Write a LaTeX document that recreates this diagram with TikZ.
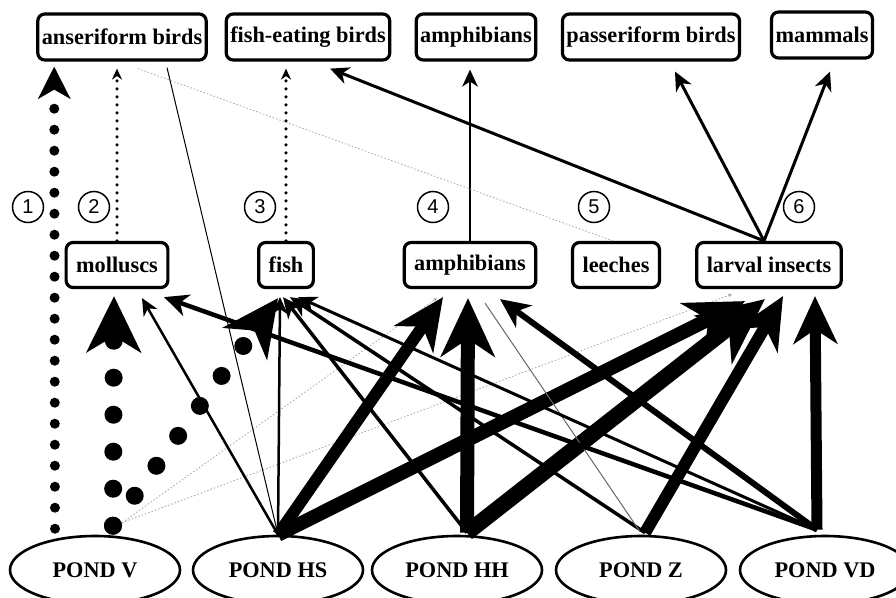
\documentclass[tikz,border=0pt]{standalone}
\usepackage{fontspec}
\setmainfont{Liberation Serif}
\setsansfont{Liberation Sans}
\usetikzlibrary{arrows.meta,shapes.geometric,calc}

\begin{document}
\begin{tikzpicture}[x=1pt, y=-1pt,
    box/.style={draw, line width=3.2pt, rounded corners=7pt, inner xsep=4pt, minimum height=46pt,
        font=\fontsize{22.3}{24}\selectfont\bfseries},
    prey/.style={box, inner xsep=10pt, minimum height=45pt},
    pond/.style={draw, ellipse, line width=2.6pt, minimum width=170pt, minimum height=68pt,
        font=\fontsize{22.3}{24}\selectfont\bfseries},
    num/.style={draw, circle, line width=1.5pt, minimum size=31pt, inner sep=0pt,
        font=\sffamily\fontsize{20}{20}\selectfont},
    flow/.style={line width=#1, -{Stealth[length=8pt 3.6, width'=0pt .92, inset'=0pt .3]}},
    bigdots/.style={line width=10pt, line cap=round, dash pattern=on 0pt off 21pt,
        -{Stealth[length=32pt, width=32pt, inset=9pt]}},
    hugedots/.style={line width=18pt, line cap=round, dash pattern=on 0pt off 37pt,
        -{Stealth[length=56pt, width=54pt, inset=16pt]}},
    fewdots/.style={line width=3.5pt, line cap=round, dash pattern=on 0pt off 8pt,
        -{Stealth[length=11pt, width=10pt]}},
    faint/.style={gray!70, line width=0.8pt, dash pattern=on 1.5pt off 2pt},
    faintarrow/.style={faint, -{Stealth[length=4pt, width=4pt]}}
]
    \useasboundingbox (0,0) rectangle (896,597);
    \clip (0,0) rectangle (896,597);

    % Predators
    \node[box] (ans) at (122,37) {anseriform birds};
    \node[box] (feb) at (308,37) {fish-eating birds};
    \node[box] (amt) at (476,37) {amphibians};
    \node[box] (pas) at (651,37) {passeriform birds};
    \node[box] (mam) at (822,35) {mammals};

    % Prey
    \node[prey] (mol) at (117,265) {molluscs};
    \node[prey] (fis) at (286,265) {fish};
    \node[prey] (amm) at (470,265) {amphibians};
    \node[prey] (lee) at (616,265) {leeches};
    \node[prey] (lar) at (769,265) {larval insects};

    % Pathway numbers
    \foreach \i/\x in {1/28,2/94,3/260,4/433,5/594,6/799}
        \node[num] (n\i) at (\x,207) {\i};

    % Ponds
    \foreach \n/\x/\t in {pv/95/V, phs/278/HS, phh/457/HH, pz/641/Z, pvd/825/VD}
        \node[pond] (\n) at (\x,570) {POND \t};

    \coordinate (v1) at ($(pv.north)+(-40,-6)$);
    \coordinate (v2) at ($(pv.north)+(18,-9)$);
    \coordinate (v3) at ($(pv.north)+(27,-12)$);
    \coordinate (hh) at ($(phh.north)+(10,-2)$);
    \coordinate (zz) at ($(pz.north)+(4,-2)$);
    \coordinate (vd) at ($(pvd.north)+(-8,-5)$);

    % Pond V
    \draw[bigdots] (v1) -- ($(ans.south west)+(18,5)$);
    \draw[hugedots] (v2) -- ($(mol.south)+(-3,7)$);
    \draw[hugedots] (v2) -- ($(fis.south)+(-8,9)$);
    \draw[faintarrow] (v3) -- ($(amm.south)+(-33,9)$);
    \draw[faintarrow] (v3) -- ($(lar.south)+(-37,5)$);

    % Pond HS
    \draw[line width=1pt] (phs.north) -- ($(ans.south)+(45,6)$);
    \draw[flow=2.5pt] (phs.north) -- ($(mol.south)+(25,9)$);
    \draw[flow=2.5pt] (phs.north) -- ($(fis.south)+(-6,8)$);
    \draw[flow=12pt] (phs.north) -- ($(amm.south)+(-27,8)$);
    \draw[flow=14pt] (phs.north) -- ($(lar.south)+(-24,12)$);

    % Pond HH
    \draw[flow=3.5pt] (hh) -- ($(fis.south)+(-3,8)$);
    \draw[flow=14pt] (hh) -- ($(amm.south)+(-2,9)$);
    \draw[flow=16pt] (hh) -- ($(lar.south)+(-4,10)$);

    % Pond Z
    \draw[flow=3.5pt] (zz) -- ($(fis.south)+(4,8)$);
    \draw[line width=1pt, gray!80!black] ($(pz.north)+(-1,-3)$) -- ($(amm.south)+(15,14)$);
    \draw[flow=12pt] (zz) -- ($(lar.south)+(14,7)$);

    % Pond VD
    \draw[flow=4.5pt] (vd) -- ($(mol.south)+(47,8)$);
    \draw[flow=3pt] (vd) -- ($(fis.south)+(12,8)$);
    \draw[flow=6pt] (vd) -- ($(amm.south)+(30,10)$);
    \draw[flow=11pt] (vd) -- ($(lar.south)+(46,7)$);

    % Prey to predators
    \draw[fewdots] (mol.north) -- ($(ans.south)+(-5,7)$);
    \draw[fewdots] (fis.north) -- ($(feb.south)+(-22,7)$);
    \draw[flow=2.5pt] (amm.north) -- ($(amt.south)+(-6,8)$);
    \draw[faint] ($(lee.north)+(-3,0)$) -- ($(ans.south)+(16,7)$);
    \draw[flow=3pt] ($(lar.north)+(-5,0)$) -- ($(feb.south)+(22,7)$);
    \draw[flow=3pt] ($(lar.north)+(-5,0)$) -- ($(pas.south)+(24,10)$);
    \draw[flow=3pt] ($(lar.north)+(-5,0)$) -- ($(mam.south)+(8,12)$);
\end{tikzpicture}
\end{document}
